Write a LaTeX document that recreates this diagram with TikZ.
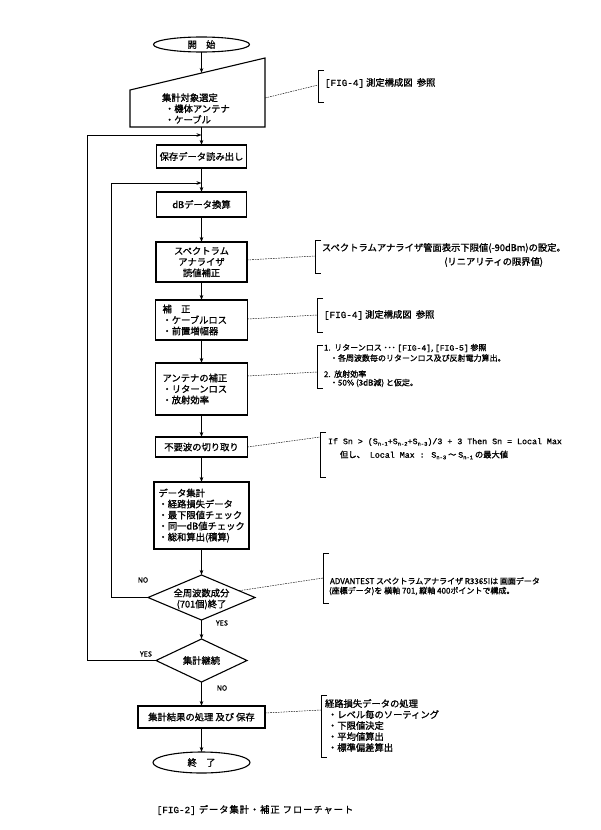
\documentclass[tikz,border=0pt]{standalone}
\usepackage{fontspec}
\setmainfont{Noto Sans CJK JP}[FakeBold=1.2]
\newfontfamily\latmono{Liberation Mono}[FakeBold=1.2]
\usetikzlibrary{shapes.geometric,arrows.meta,calc}
\newcommand{\sbs}[1]{\raisebox{-0.35ex}{\fontsize{5.5}{6}\selectfont #1}}
\newcommand{\mybrk}[3]{\draw[brk] (#1+6,#2) -- (#1,#2) -- (#1,#3) -- (#1+6,#3);}
\newcommand{\fig}[1]{{\latmono[FIG-#1]}}
\begin{document}
\begin{tikzpicture}[x=1pt,y=-1pt,
  every node/.style={inner sep=0pt, outer sep=0pt},
  txt/.style={font=\fontsize{9.3}{11}\selectfont},
  sml/.style={font=\fontsize{8}{10}\selectfont},
  term/.style={draw, ellipse, line width=1.1pt, txt},
  proc/.style={draw, rectangle, line width=1.1pt, txt},
  dec/.style={draw, diamond, line width=1.1pt},
  flow/.style={line width=0.8pt, -{Stealth[length=5pt,width=3.6pt]}},
  lead/.style={line width=0.45pt, dash pattern=on 1.6pt off 1pt},
  brk/.style={line width=0.8pt},
  note/.style={anchor=west, txt},
  snote/.style={anchor=west, sml},
  lbl/.style={font=\fontsize{7}{8}\selectfont}
]
\useasboundingbox (0,0) rectangle (600,830);

% ---- main column ----
\node[term, minimum width=96pt, minimum height=15pt] (start) at (201.5,44.5) {開　始};

\node[minimum width=135pt, minimum height=69pt] (inp) at (197.5,92.5) {};
\draw[line width=1.1pt] (inp.south west) -- (inp.south east) -- (inp.north east) -- ([yshift=-32pt]inp.north west) -- cycle;
\node[txt, align=left, anchor=west] (inpt) at (162,108.5) {集計対象選定\\\hspace*{3pt}・機体アンテナ\\\hspace*{3pt}・ケーブル};
\coordinate (inptop) at (201.5,73.05);

\node[proc, minimum width=90pt, minimum height=23pt] (b1) at (201.5,156.5) {保存データ読み出し};
\node[proc, minimum width=90pt, minimum height=25pt] (b2) at (201.5,204.5) {dBデータ換算};
\node[proc, minimum width=91pt, minimum height=40pt, align=center] (b3) at (201.5,262) {スペクトラム\\アナライザ\\読値補正};
\node[proc, minimum width=92pt, minimum height=40pt, text width=78pt, align=left] (b4) at (201.5,320) {補　正\\・ケーブルロス\\・前置増幅器};
\node[proc, minimum width=92pt, minimum height=52pt, text width=78pt, align=left] (b5) at (201.5,389) {アンテナの補正\\・リターンロス\\・放射効率};
\node[proc, minimum width=92pt, minimum height=20pt] (b6) at (201.5,447) {不要波の切り取り};
\node[proc, minimum width=95pt, minimum height=67pt, text width=86pt, align=left] (b7) at (201.5,515.5) {データ集計\\・経路損失データ\\・最下限値チェック\\・同一dB値チェック\\・総和算出(積算)};
\node[dec, minimum width=107pt, minimum height=45pt] (d1) at (201.5,597.5) {};
\node[txt, align=center] (d1t) at (201.5,599) {全周波数成分\\(701個)終了};
\node[dec, minimum width=91pt, minimum height=43pt] (d2) at (201.5,660.5) {};
\node[txt] (d2t) at (d2) {集計継続};
\node[proc, minimum width=127pt, minimum height=22pt] (b8) at (201.5,717) {集計結果の処理\ 及び\ 保存};
\node[term, minimum width=97pt, minimum height=21pt] (end) at (201.5,762.5) {終　了};

% ---- flow arrows ----
\draw[flow] (start.south) -- (inptop);
\draw[flow] (inptop |- inp.south) -- (b1.north);
\draw[flow] (b1.south) -- (b2.north);
\draw[flow] (b2.south) -- (b3.north);
\draw[flow] (b3.south) -- (b4.north);
\draw[flow] (b4.south) -- (b5.north);
\draw[flow] (b5.south) -- (b6.north);
\draw[flow] (b6.south) -- (b7.north);
\draw[flow] (b7.south) -- (d1.north);
\draw[flow] (d1.south) -- (d2.north);
\draw[flow] (d2.south) -- (b8.north);
\draw[flow] (b8.south) -- (end.north);

% ---- loops ----
\coordinate (outer) at (87,135);
\draw[flow] (d2.west) -| (outer) -- (outer -| b1.north);
\coordinate (inner) at (111,183);
\draw[flow] (d1.west) -| (inner) -- (inner -| b2.north);

\node[lbl] (no1) at (143,580) {NO};
\node[lbl] (yes1) at (222,623) {YES};
\node[lbl] (yes2) at (146,654) {YES};
\node[lbl] (no2) at (222,688) {NO};

% ---- brackets and leaders ----
\mybrk{318}{70}{102}
\coordinate (k1) at (318,85);
\draw[lead] ([yshift=-5.5pt]inp.east) -- (k1);
\node[note] (n1) at (325,83) {\fig{4}\ 測定構成図\ \ 参照};

\mybrk{315}{240}{273}
\coordinate (k2) at (315,256);
\draw[lead] ([yshift=2pt]b3.east) -- (k2);
\node[note] (n2) at (322,248) {スペクトラムアナライザ管面表示下限値(-90dBm)の設定。};
\node[note, anchor=east] (n2b) at (543,262) {(リニアリティの限界値)};

\mybrk{317}{298}{332}
\coordinate (k3) at (317,315);
\draw[lead] ([yshift=1pt]b4.east) -- (k3);
\node[note] (n3) at (324,315) {\fig{4}\ 測定構成図\ \ 参照};

\mybrk{317}{345}{388}
\coordinate (k4) at (317,372);
\draw[lead] ([yshift=13pt]b5.east) -- (k4);
\node[snote] (n4a) at (324,348) {1.\ \ リターンロス\ ･･･\ \fig{4},\ \fig{5}\ 参照};
\node[snote] (n4b) at (330,358) {・各周波数毎のリターンロス及び反射電力算出。};
\node[snote] (n4c) at (324,374) {2.\ \ 放射効率};
\node[snote] (n4d) at (330,383) {・50\% (3dB減) と仮定。};

\mybrk{320}{432}{477}
\coordinate (k5) at (320,437);
\draw[lead] (b6.east) -- (k5);
\node[anchor=west, font=\fontsize{8.3}{10}\selectfont\latmono] (n5a) at (328,442) {If Sn > (S\sbs{n-1}+S\sbs{n-2}+S\sbs{n-3})/3 + 3 Then Sn = Local Max};
\node[anchor=west, font=\fontsize{8.3}{10}\selectfont] (n5b) at (340,455) {但し、{\latmono\ Local Max : S\sbs{n-3}} ～ {\latmono S\sbs{n-1}} の最大値};

\mybrk{323}{553}{603}
\coordinate (k6) at (323,578);
\draw[lead] ($(d1.north)!0.7!(d1.east)$) -- (k6);
\node[snote] (n6a) at (330,581) {ADVANTEST スペクトラムアナライザ R3365Iは 画面データ};
\node[snote] (n6b) at (329,591) {(座標データ)を 横軸 701, 縦軸 400ポイントで構成。};

\mybrk{321}{695}{757}
\coordinate (k7) at (321,710);
\draw[lead] ([yshift=4pt]b8.east) -- (k7);
\node[note, align=left] (n7) at (325,725.5) {経路損失データの処理\\\hspace*{3pt}・レベル毎のソーティング\\\hspace*{3pt}・下限値決定\\\hspace*{3pt}・平均値算出\\\hspace*{3pt}・標準偏差算出};

% ---- caption ----
\node[txt] (cap) at (255,810) {\addfontfeature{LetterSpace=10}\fig{2}\ データ集計・補正\ フローチャート};
\end{tikzpicture}
\end{document}
